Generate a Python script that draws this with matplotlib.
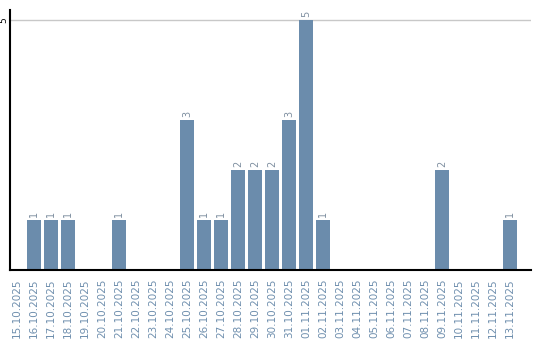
import matplotlib
matplotlib.use("Agg")
import matplotlib.pyplot as plt

dates = ["15.10.2025", "16.10.2025", "17.10.2025", "18.10.2025", "19.10.2025",
         "20.10.2025", "21.10.2025", "22.10.2025", "23.10.2025", "24.10.2025",
         "25.10.2025", "26.10.2025", "27.10.2025", "28.10.2025", "29.10.2025",
         "30.10.2025", "31.10.2025", "01.11.2025", "02.11.2025", "03.11.2025",
         "04.11.2025", "05.11.2025", "06.11.2025", "07.11.2025", "08.11.2025",
         "09.11.2025", "10.11.2025", "11.11.2025", "12.11.2025", "13.11.2025"]
counts = [0, 1, 1, 1, 0, 0, 1, 0, 0, 0, 3, 1, 1, 2, 2, 2, 3, 5, 1, 0, 0, 0, 0, 0, 0, 2, 0, 0, 0, 1]

bar_color = "#6b8cac"
label_color = "#6f8fae"

fig = plt.figure(figsize=(5.4, 3.4), dpi=100)
ax = fig.add_axes([10/540, 70/340, 521/540, 260/340])

x = list(range(len(dates)))
ax.bar(x, counts, width=0.82, color=bar_color, zorder=2)
for xi, c in zip(x, counts):
    if c > 0:
        ax.text(xi, c + 0.06, str(c), rotation=90, ha="center", va="bottom",
                fontsize=7, color="#7f8fa0")

ax.set_xlim(-0.41, 30.24)
ax.set_ylim(0, 5.2)
ax.set_yticks([5])
ax.set_yticklabels(["5"], rotation=90, fontsize=6.5, va="center")
ax.yaxis.grid(True, color="#c8c8c8", linewidth=1, zorder=0)
ax.tick_params(axis="y", length=0, pad=1)
ax.set_xticks(x)
ax.set_xticklabels(dates, rotation=90, fontsize=7.5, color=label_color)
ax.tick_params(axis="x", length=0, pad=6)
for s in ["top", "right"]:
    ax.spines[s].set_visible(False)
ax.spines["left"].set_linewidth(1.5)
ax.spines["bottom"].set_linewidth(1.5)

fig.savefig("out.png", dpi=100)
